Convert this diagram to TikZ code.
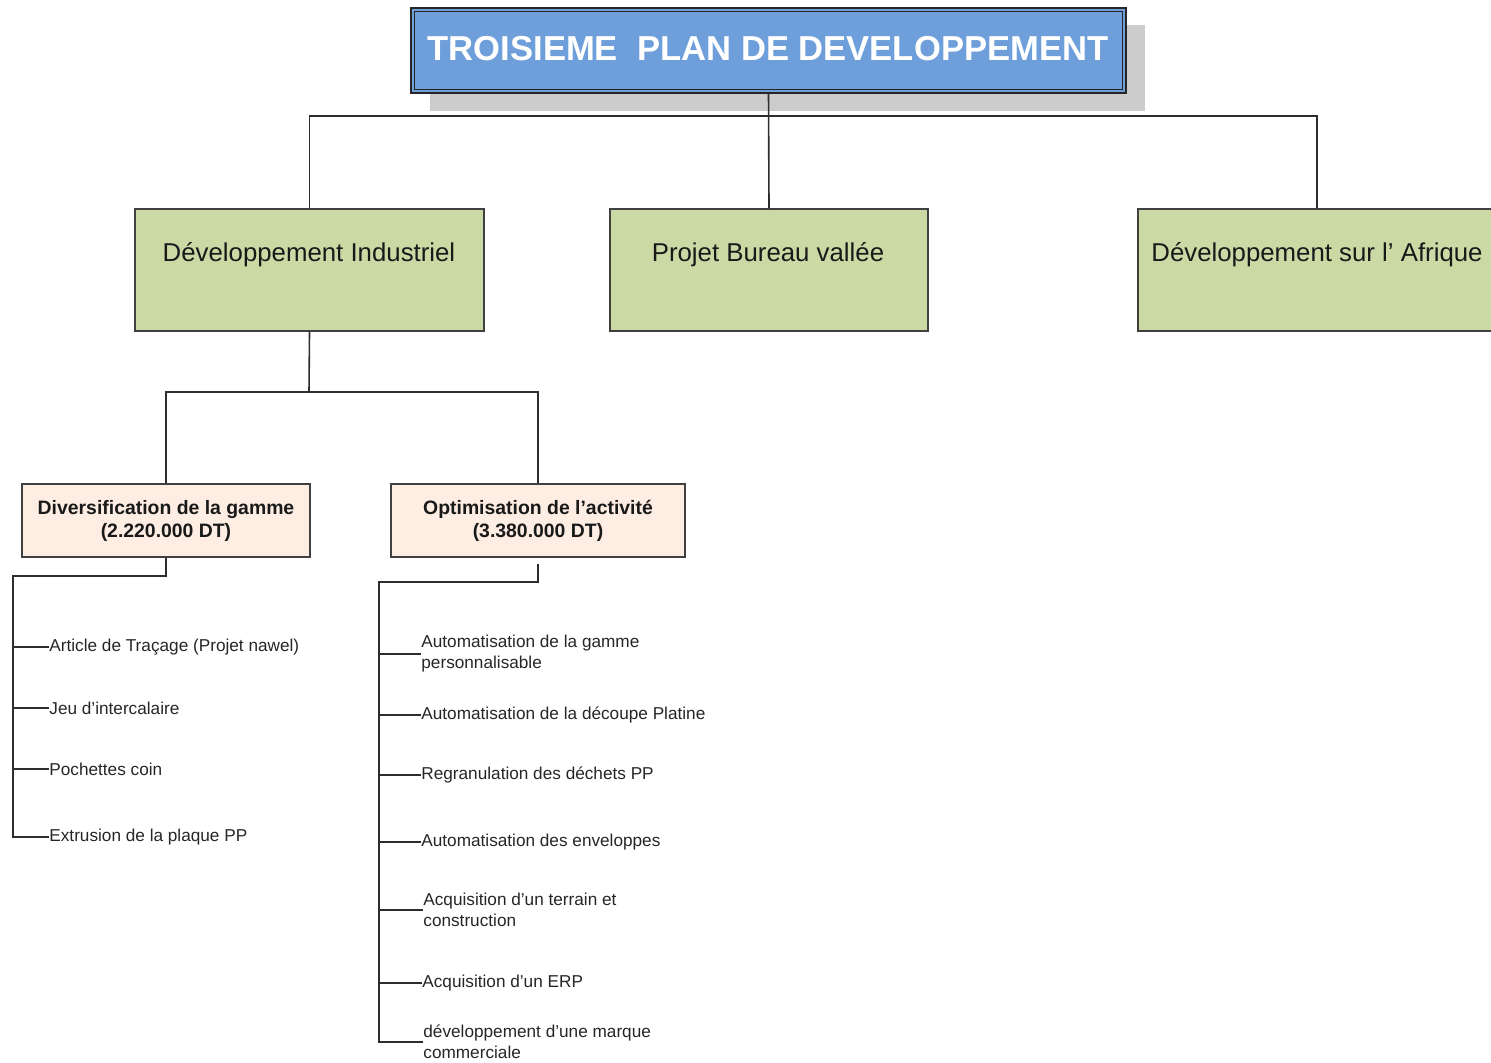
\documentclass[tikz,border=0pt]{standalone}
\usepackage{fontspec}
\setmainfont{Liberation Sans}
\definecolor{titleblue}{RGB}{110,159,219}
\definecolor{boxgreen}{RGB}{203,217,165}
\definecolor{boxpink}{RGB}{253,237,227}
\definecolor{shadowgray}{RGB}{204,204,204}
\definecolor{linegray}{RGB}{45,45,45}
\begin{document}
\begin{tikzpicture}[x=0.5pt,y=-0.5pt,
  conn/.style={draw=linegray,line width=0.8pt},
  titlebox/.style={draw=black!85,line width=0.6pt,fill=titleblue,minimum width=357.5pt,minimum height=42.5pt,inner sep=0pt},
  greenbox/.style={draw=black!75,line width=0.7pt,fill=boxgreen,minimum height=61pt,inner sep=0pt},
  greentext/.style={font=\fontsize{12.9}{15}\selectfont,text=black!90,inner sep=0pt},
  pinkbox/.style={draw=black!75,line width=0.7pt,fill=boxpink,minimum height=36.5pt,inner sep=0pt,align=center,font=\fontsize{9.7}{11.5}\bfseries\selectfont,text=black!90},
  item/.style={anchor=west,inner sep=0pt,align=left,font=\fontsize{8.6}{10.5}\selectfont,text=black!85}]
\useasboundingbox (0,0) rectangle (1491,1062);
% title shadow
\fill[shadowgray] (430,25) rectangle (1145,111);
\node[titlebox] (t) at (768.5,50.5) {};
\draw[black!85,line width=0.5pt] ([shift={(4,4)}]t.north west) rectangle ([shift={(-4,-4)}]t.south east);
\node[text=white,inner sep=0pt,font=\fontsize{17.3}{20}\bfseries\selectfont] (tt) at (768,49) {TROISIEME\ \ PLAN DE DEVELOPPEMENT};
% green boxes
\node[greenbox,minimum width=174.5pt] (g1) at (309.5,270) {};
\node[greenbox,minimum width=159pt] (g2) at (769,270) {};
\node[greenbox,minimum width=179pt] (g3) at (1317,270) {};
\node[greentext] (g1t) at (309,255) {Développement Industriel};
\node[greentext] (g2t) at (768,255) {Projet Bureau vallée};
\node[greentext] (g3t) at (1317,255) {Développement sur l’ Afrique};
% top connectors
\coordinate (bus) at (768,116);
\draw[conn] (t.south) -- (g2.north);
\draw[conn] (g1.north) |- (bus) -| (g3.north);
% pink boxes
\node[pinkbox,minimum width=144pt] (pA) at (166,520.5) {Diversification de la gamme\\(2.220.000 DT)};
\node[pinkbox,minimum width=147pt] (pB) at (538,520.5) {Optimisation de l’activité\\(3.380.000 DT)};
\coordinate (mid) at (309,392);
\draw[conn] (g1.south) -- (mid);
\draw[conn] (pA.north) |- (mid) -| (pB.north);
% items column A
\node[item] (ia1) at (49,647) {Article de Traçage (Projet nawel)};
\node[item] (ia2) at (49,708) {Jeu d’intercalaire};
\node[item] (ia3) at (49,769) {Pochettes coin};
\node[item] (ia4) at (49,837) {Extrusion de la plaque PP};
\coordinate (a0) at (13,576);
\draw[conn] (pA.south) |- (a0) |- (ia4.west);
\foreach \n in {ia1,ia2,ia3} \draw[conn] (a0 |- \n.west) -- (\n.west);
% items column B
\node[item] (ib1) at (421,654) {Automatisation de la gamme\\personnalisable};
\node[item] (ib2) at (421,715) {Automatisation de la découpe Platine};
\node[item] (ib3) at (421,775) {Regranulation des déchets PP};
\node[item] (ib4) at (421,842) {Automatisation des enveloppes};
\node[item] (ib5) at (423,910) {Acquisition d’un terrain et\\construction};
\node[item] (ib6) at (422,983) {Acquisition d’un ERP};
\node[item] (ib7) at (423,1042) {développement d’une marque\\commerciale};
\coordinate (b0) at (379,582);
\draw[conn] ([yshift=-3pt]pB.south) |- (b0) |- (ib7.west);
\foreach \n in {ib1,ib2,ib3,ib4,ib5,ib6} \draw[conn] (b0 |- \n.west) -- (\n.west);
\end{tikzpicture}
\end{document}
